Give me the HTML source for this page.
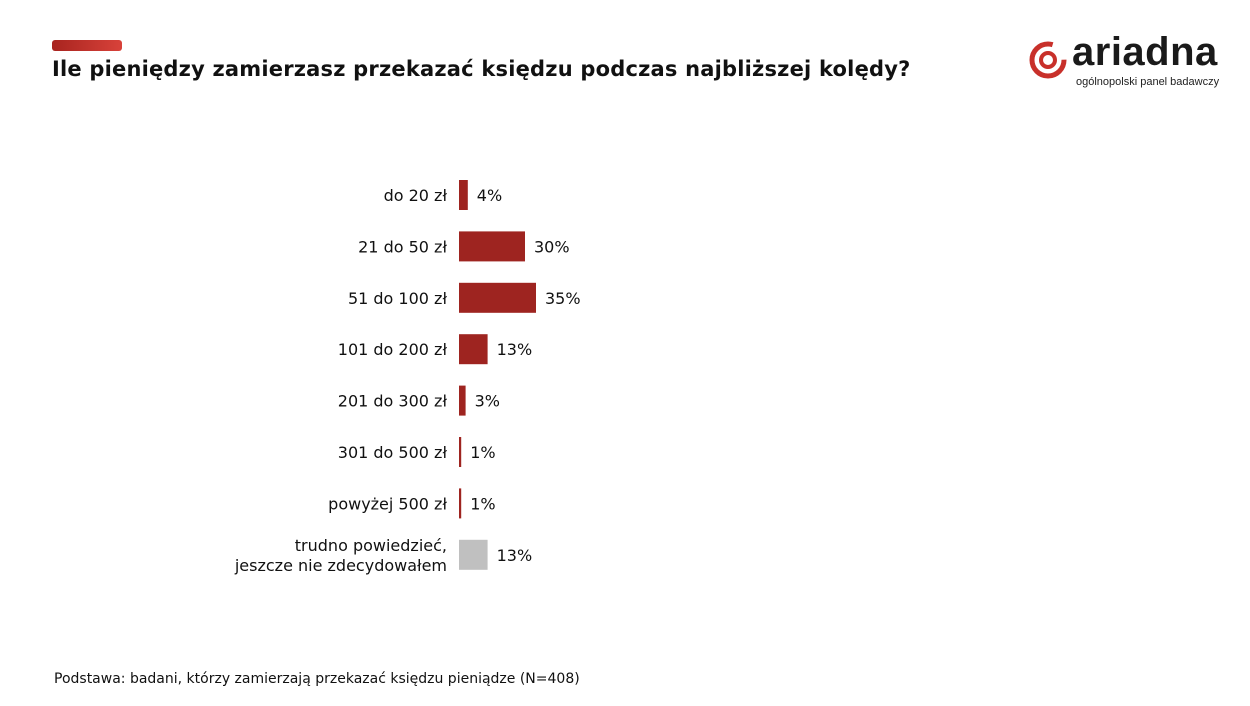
<!DOCTYPE html>
<html><head><meta charset="utf-8"><style>
body{margin:0;width:1250px;height:706px;background:#fff;font-family:"DejaVu Sans",sans-serif;position:relative;overflow:hidden}
.t{position:absolute}
</style></head><body>
<div class="t" style="left:52px;top:40px;width:70px;height:11px;border-radius:3px;background:linear-gradient(90deg,#a8241f,#d8423a)"></div>
<div class="t" style="left:52px;top:57px;font-size:21px;font-weight:bold;color:#111;white-space:nowrap;letter-spacing:0.2px">Ile pieniędzy zamierzasz przekazać księdzu podczas najbliższej kolędy?</div>
<div class="t" style="left:1028px;top:38px;width:195px;height:55px">
<svg width="48" height="48" style="position:absolute;left:0;top:0" viewBox="0 0 48 48"><circle cx="20" cy="22" r="16" fill="none" stroke="#c8302a" stroke-width="5" stroke-dasharray="80 20"/><circle cx="20" cy="22" r="7" fill="none" stroke="#c8302a" stroke-width="4"/></svg>
<div class="t" style="left:44px;top:-8px;font-family:'Liberation Sans',sans-serif;font-size:40px;font-weight:bold;color:#1a1a1a;letter-spacing:0.5px">ariadna</div>
<div class="t" style="left:48px;top:38px;font-family:'Liberation Sans',sans-serif;font-size:11px;color:#222">ogólnopolski panel badawczy</div>
</div>
<svg id="chart" width="1250" height="706" style="position:absolute;left:0;top:0;font-family:'DejaVu Sans',sans-serif"></svg>
<div class="t" style="left:54px;top:671px;font-size:14px;color:#111;white-space:nowrap">Podstawa: badani, którzy zamierzają przekazać księdzu pieniądze (N=408)</div>
<script>
const categories=["do 20 zł","21 do 50 zł","51 do 100 zł","101 do 200 zł","201 do 300 zł","301 do 500 zł","powyżej 500 zł","trudno powiedzieć,|jeszcze nie zdecydowałem"];
const values=[4,30,35,13,3,1,1,13];
const labels=["4%","30%","35%","13%","3%","1%","1%","13%"];
const svg=document.getElementById('chart');const NS='http://www.w3.org/2000/svg';
const x0=459,k=2.2,y0=195,step=51.4,bh=30;
const xs=v=>Math.max(1.5,v*k);const ys=i=>y0+i*step;
values.forEach((v,i)=>{
const r=document.createElementNS(NS,'rect');


r.setAttribute('x',x0);r.setAttribute('y',ys(i)-bh/2);r.setAttribute('width',xs(v));r.setAttribute('height',bh);
r.setAttribute('fill',i==7?'#c0c0c0':'#9e2420');svg.appendChild(r);
const t=document.createElementNS(NS,'text');


t.setAttribute('x',x0+xs(v)+9);t.setAttribute('y',ys(i)+6);t.setAttribute('font-size','16');t.setAttribute('fill','#111');t.textContent=labels[i];svg.appendChild(t);
const lines=categories[i].split('|');
lines.forEach((ln,j)=>{const c=document.createElementNS(NS,'text');


c.setAttribute('x',447);c.setAttribute('text-anchor','end');c.setAttribute('font-size','16');c.setAttribute('fill','#111');
c.setAttribute('y',ys(i)+6+(j-(lines.length-1)/2)*20);c.textContent=ln;svg.appendChild(c);});
});
</script>
</body></html>
